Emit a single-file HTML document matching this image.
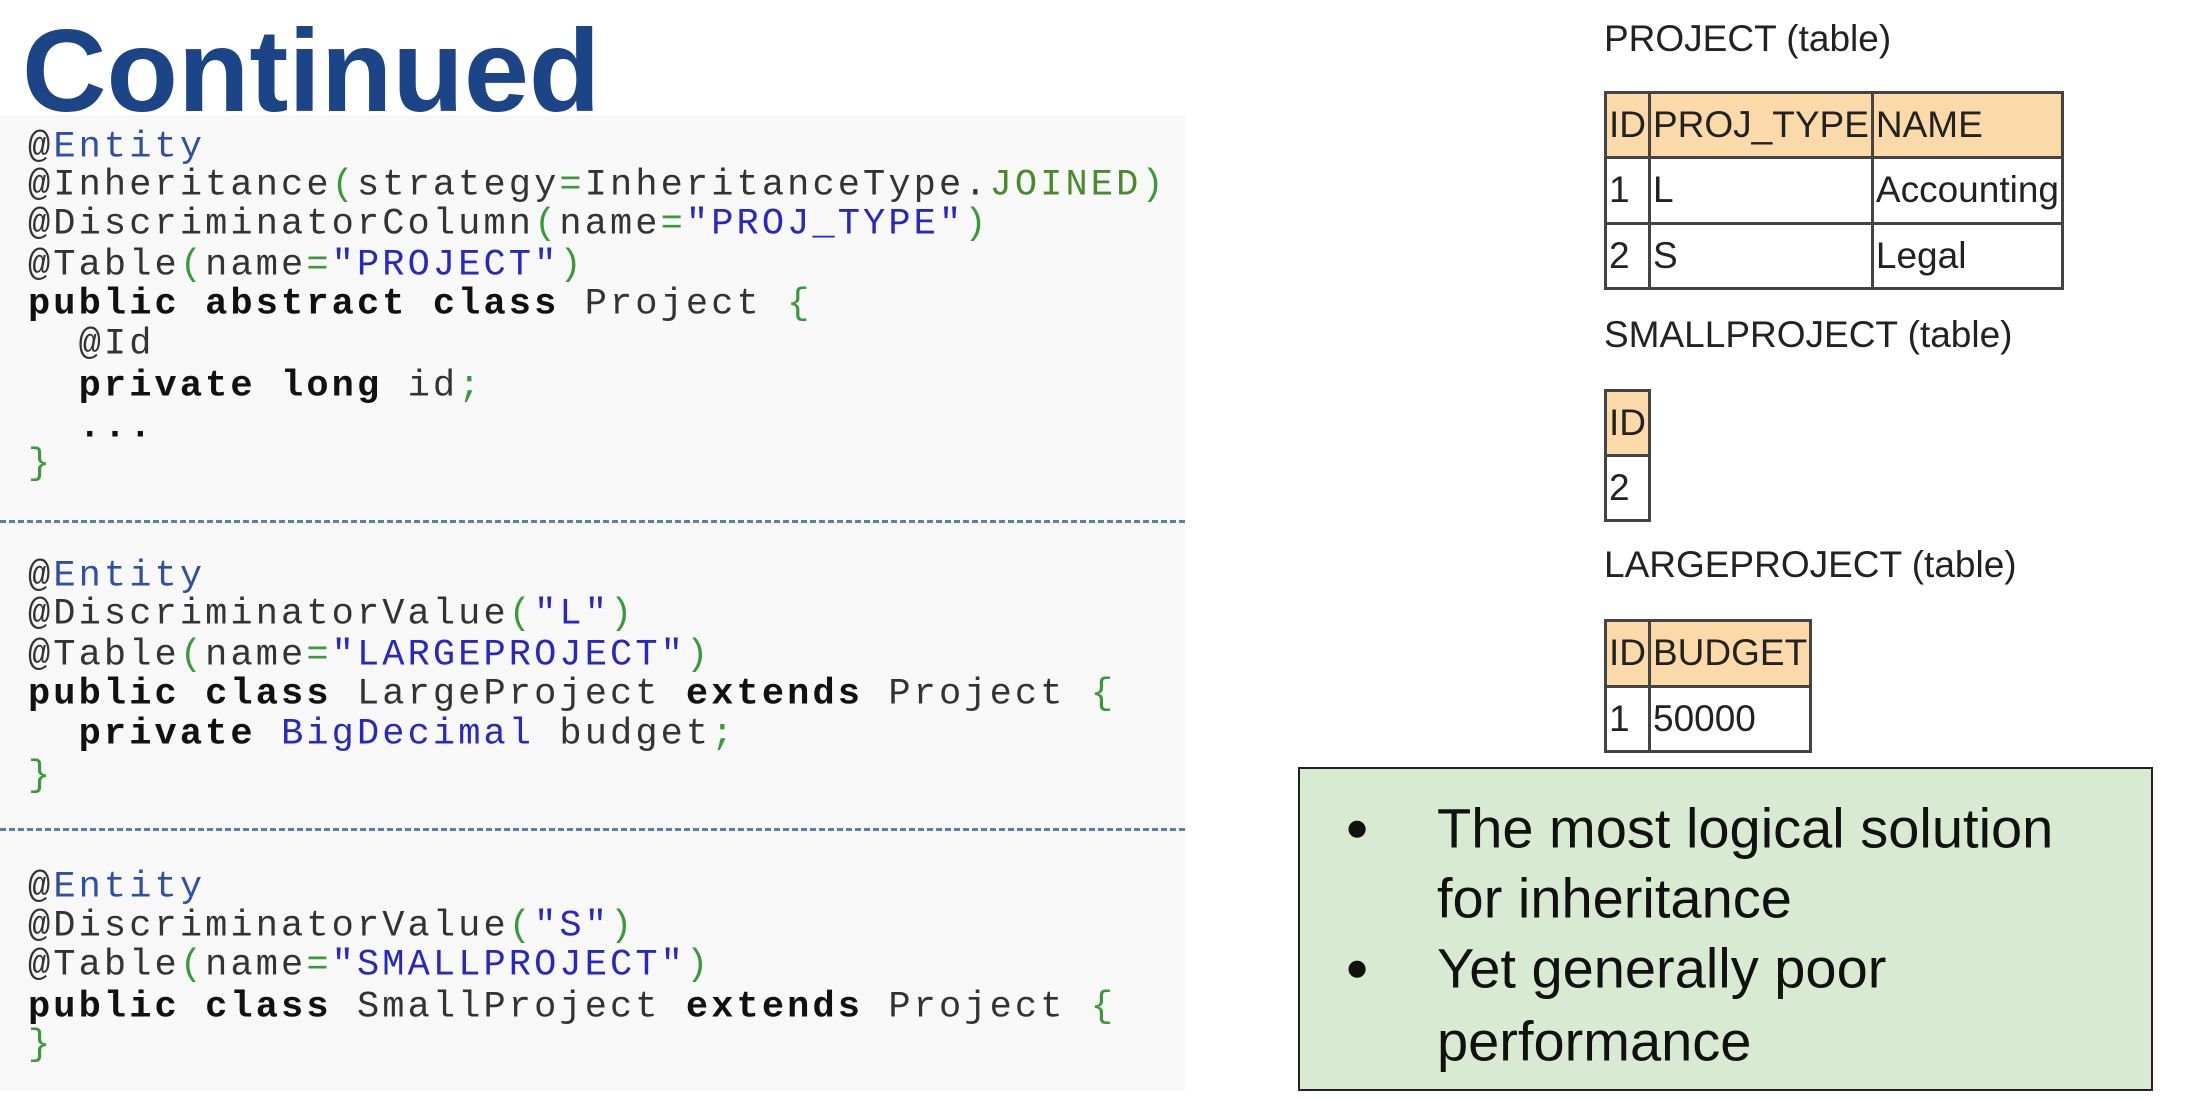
<!DOCTYPE html>
<html><head><meta charset="utf-8"><style>
body{margin:0;width:2188px;height:1100px;background:#fff;position:relative;overflow:hidden;font-family:"Liberation Sans",sans-serif}
.t{position:absolute;white-space:pre}
#title{left:22px;top:12px;font-size:117px;font-weight:bold;color:#1c4587;line-height:1}
#code{position:absolute;left:0;top:115px;width:1185px;height:976px;background:#f8f8f8}
.dash{position:absolute;left:0;width:1185px;border-top:3px dashed #5a7fa8;height:0}
.c{position:absolute;left:28px;font-family:"Liberation Mono",monospace;font-size:37px;letter-spacing:3.1px;color:#333;white-space:pre;line-height:1;transform:translateY(-50%)}
.b{font-weight:bold;color:#111}.g{color:#3a9a3a}.u{color:#2828c0}.e{color:#3050a0}.j{color:#4a8a2a}
.lab{position:absolute;left:1604px;font-size:37px;color:#222;transform:translateY(-50%);white-space:pre}
table{position:absolute;border-collapse:collapse;border:3px solid #333;font-size:37px;color:#222}
td{border:3px solid #444;padding:0 2px;vertical-align:middle;white-space:nowrap}
.h td{background:#fcd9a8}
#box{position:absolute;left:1298px;top:767px;width:851px;height:320px;background:#d9ead3;border:2px solid #222}
.bl{position:absolute;font-size:56px;color:#111;transform:translateY(-50%);white-space:pre}
</style></head><body>
<div class="t" id="title">Continued</div>
<div id="code">
<div class="dash" style="top:405px"></div>
<div class="dash" style="top:713px"></div>
</div>
<div class="c" style="top:148px">@<span class="e">Entity</span></div>
<div class="c" style="top:186px">@Inheritance<span class="g">(</span>strategy<span class="g">=</span>InheritanceType.<span class="j">JOINED</span><span class="g">)</span></div>
<div class="c" style="top:225px">@DiscriminatorColumn<span class="g">(</span>name<span class="g">=</span><span class="u">"PROJ_TYPE"</span><span class="g">)</span></div>
<div class="c" style="top:266px">@Table<span class="g">(</span>name<span class="g">=</span><span class="u">"PROJECT"</span><span class="g">)</span></div>
<div class="c" style="top:305px"><span class="b">public abstract class</span> Project <span class="g">{</span></div>
<div class="c" style="top:345px">  @Id</div>
<div class="c" style="top:387px">  <span class="b">private long</span> id<span class="g">;</span></div>
<div class="c" style="top:428px">  <span class="b">...</span></div>
<div class="c" style="top:465px"><span class="g">}</span></div>

<div class="c" style="top:577px">@<span class="e">Entity</span></div>
<div class="c" style="top:615px">@DiscriminatorValue<span class="g">(</span><span class="u">"L"</span><span class="g">)</span></div>
<div class="c" style="top:656px">@Table<span class="g">(</span>name<span class="g">=</span><span class="u">"LARGEPROJECT"</span><span class="g">)</span></div>
<div class="c" style="top:695px"><span class="b">public class</span> LargeProject <span class="b">extends</span> Project <span class="g">{</span></div>
<div class="c" style="top:735px">  <span class="b">private</span> <span class="u">BigDecimal</span> budget<span class="g">;</span></div>
<div class="c" style="top:777px"><span class="g">}</span></div>

<div class="c" style="top:888px">@<span class="e">Entity</span></div>
<div class="c" style="top:927px">@DiscriminatorValue<span class="g">(</span><span class="u">"S"</span><span class="g">)</span></div>
<div class="c" style="top:966px">@Table<span class="g">(</span>name<span class="g">=</span><span class="u">"SMALLPROJECT"</span><span class="g">)</span></div>
<div class="c" style="top:1008px"><span class="b">public class</span> SmallProject <span class="b">extends</span> Project <span class="g">{</span></div>
<div class="c" style="top:1046px"><span class="g">}</span></div>

<div class="lab" style="top:39px">PROJECT (table)</div>
<table style="left:1604px;top:91px;width:459px;height:199px">
<tr class="h"><td style="width:36px">ID</td><td style="width:219px">PROJ_TYPE</td><td>NAME</td></tr>
<tr><td>1</td><td>L</td><td>Accounting</td></tr>
<tr><td>2</td><td>S</td><td>Legal</td></tr>
</table>
<div class="lab" style="top:335px">SMALLPROJECT (table)</div>
<table style="left:1604px;top:389px;width:45px;height:133px">
<tr class="h"><td>ID</td></tr><tr><td>2</td></tr>
</table>
<div class="lab" style="top:565px">LARGEPROJECT (table)</div>
<table style="left:1604px;top:619px;width:206px;height:134px">
<tr class="h"><td style="width:36px">ID</td><td>BUDGET</td></tr>
<tr><td>1</td><td>50000</td></tr>
</table>

<div id="box"></div>
<div class="bl" style="left:1345px;top:828px;font-size:40px">●</div>
<div class="bl" style="left:1437px;top:828px">The most logical solution</div>
<div class="bl" style="left:1437px;top:898px">for inheritance</div>
<div class="bl" style="left:1345px;top:968px;font-size:40px">●</div>
<div class="bl" style="left:1437px;top:968px">Yet generally poor</div>
<div class="bl" style="left:1437px;top:1041px">performance</div>
</body></html>
